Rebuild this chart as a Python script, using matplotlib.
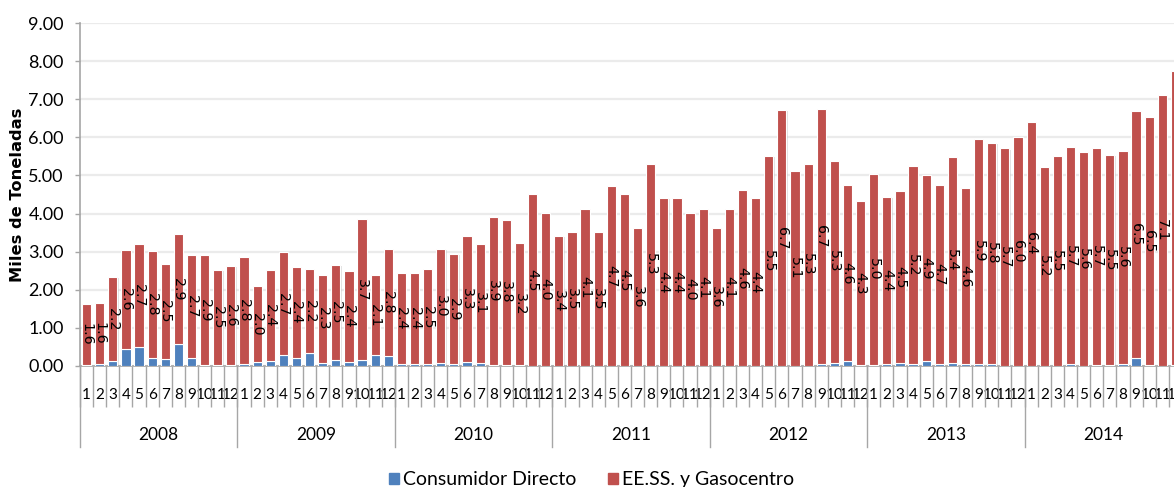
import numpy as np
import matplotlib.pyplot as plt
from matplotlib import font_manager
from matplotlib.patches import Patch

years = ['2008', '2009', '2010', '2011', '2012', '2013', '2014']
months = [str(m) for m in range(1, 13)]

# EE.SS. y Gasocentro, miles de toneladas por mes
gasocentro = [
    1.6, 1.6, 2.2, 2.6, 2.7, 2.8, 2.5, 2.9, 2.7, 2.9, 2.5, 2.6,   # 2008
    2.8, 2.0, 2.4, 2.7, 2.4, 2.2, 2.3, 2.5, 2.4, 3.7, 2.1, 2.8,   # 2009
    2.4, 2.4, 2.5, 3.0, 2.9, 3.3, 3.1, 3.9, 3.8, 3.2, 4.5, 4.0,   # 2010
    3.4, 3.5, 4.1, 3.5, 4.7, 4.5, 3.6, 5.3, 4.4, 4.4, 4.0, 4.1,   # 2011
    3.6, 4.1, 4.6, 4.4, 5.5, 6.7, 5.1, 5.3, 6.7, 5.3, 4.6, 4.3,   # 2012
    5.0, 4.4, 4.5, 5.2, 4.9, 4.7, 5.4, 4.6, 5.9, 5.8, 5.7, 6.0,   # 2013
    6.4, 5.2, 5.5, 5.7, 5.6, 5.7, 5.5, 5.6, 6.5, 6.5, 7.1, 7.7,   # 2014
]

# Consumidor Directo
consumidor = [
    0.02, 0.06, 0.13, 0.45, 0.50, 0.21, 0.18, 0.57, 0.21, 0.02, 0.02, 0.02,
    0.06, 0.10, 0.12, 0.28, 0.20, 0.34, 0.09, 0.16, 0.10, 0.15, 0.28, 0.26,
    0.05, 0.05, 0.04, 0.07, 0.04, 0.11, 0.09, 0.02, 0.03, 0.03, 0.01, 0.01,
    0.01, 0.01, 0.01, 0.01, 0.01, 0.01, 0.01, 0.01, 0.01, 0.01, 0.01, 0.01,
    0.01, 0.01, 0.01, 0.01, 0.01, 0.01, 0.01, 0.01, 0.05, 0.09, 0.14, 0.03,
    0.03, 0.04, 0.08, 0.04, 0.12, 0.06, 0.08, 0.06, 0.06, 0.06, 0.01, 0.01,
    0.01, 0.01, 0.01, 0.04, 0.01, 0.03, 0.03, 0.05, 0.20, 0.03, 0.01, 0.03,
]

names = {f.name for f in font_manager.fontManager.ttflist}
narrow = 'Liberation Sans Narrow' if 'Liberation Sans Narrow' in names else 'Lato'

blue = '#4F81BD'
red = '#C0504D'
axis_gray = '#a6a6a6'

gas = np.array(gasocentro)
cons = np.array(consumidor)
x = np.arange(len(gas))
n_years = len(years)

fig = plt.figure(figsize=(11.74, 4.87), dpi=100)
ax = fig.add_axes([80 / 1174, 121 / 487, 1102 / 1174, 343 / 487])

# sombra suave de las barras
ax.bar(x + 0.09, cons + gas, width=0.7, bottom=-0.03, color='#bfbfbf', alpha=0.45,
       linewidth=0, zorder=2)
ax.bar(x, cons, width=0.7, color=blue, edgecolor='white', linewidth=0.8, zorder=3)
ax.bar(x, gas, width=0.7, bottom=cons, color=red, edgecolor='white', linewidth=0.8, zorder=3)

for xi, c, g in zip(x, cons, gas):
    ax.text(xi, c + g / 2, f'{g:.1f}', rotation=270, ha='center', va='center',
            fontsize=10.3, family='DejaVu Sans', color='black', zorder=4)

ax.set_ylim(0, 9)
ax.set_yticks(np.arange(0, 10, 1))
ax.set_yticklabels([f'{v:.2f}' for v in np.arange(0, 10, 1)], family=narrow, fontsize=13)
ax.yaxis.grid(True, color='#ebebeb', linewidth=1.6, zorder=0)
ax.set_axisbelow(True)

ax.set_xlim(-0.5, len(gas) - 0.5)
ax.set_xticks(x)
ax.set_xticklabels(months * n_years, family=narrow, fontsize=11)
ax.set_xticks(np.arange(-0.5, len(gas), 1), minor=True)
ax.tick_params(axis='x', which='major', length=0, pad=16)
ax.tick_params(axis='x', which='minor', length=29.5, color=axis_gray, width=1)
ax.tick_params(axis='y', length=3.6, color=axis_gray, width=1, pad=8)

for side in ['top', 'right']:
    ax.spines[side].set_visible(False)
for side in ['left', 'bottom']:
    ax.spines[side].set_color(axis_gray)
    ax.spines[side].set_linewidth(1.2)

# separadores y etiquetas de año
trans = ax.get_xaxis_transform()
for i, yr in enumerate(years):
    start = i * 12 - 0.5
    ax.plot([start, start], [0, -0.236], transform=trans, color=axis_gray,
            linewidth=1, clip_on=False)
    ax.text(start + 6, -0.201, yr, transform=trans, ha='center', va='center',
            family=narrow, fontsize=12.5)

fig.text(18 / 1174, 1 - 195 / 487, 'Miles de Toneladas', rotation=90, ha='center',
         va='center', family='DejaVu Sans', fontweight='bold', fontsize=11.7)

handles = [Patch(color=blue, label='Consumidor Directo'),
           Patch(color=red, label='EE.SS. y Gasocentro')]
fig.legend(handles=handles, loc='lower center', bbox_to_anchor=(0.504, -0.003), ncol=2,
           frameon=False, prop={'family': narrow, 'size': 14}, handlelength=0.5,
           handleheight=0.5, handletextpad=0.25, columnspacing=1.6, borderpad=0,
           borderaxespad=0)

fig.savefig('out.png', dpi=100)
